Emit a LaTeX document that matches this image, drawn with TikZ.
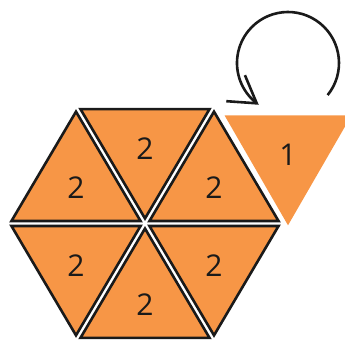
\documentclass[tikz,border=0pt]{standalone}
\usepackage{fontspec}
\setmainfont{Open Sans}
\usetikzlibrary{arrows.meta,bending,calc}
\definecolor{orange}{HTML}{F79646}
\definecolor{ink}{HTML}{1A1A1A}
\tikzset{
  piece/.style={fill=orange,draw=ink,line width=2.6pt,line join=miter},
  loose/.style={fill=orange},
  count/.style={font=\fontsize{30}{32}\selectfont,text=ink,inner sep=0pt,yshift=-3pt},
  turn/.style={-{Straight Barb[length=26pt,width=32pt,flex]},draw=ink,line width=2.6pt}
}
\begin{document}
\begin{tikzpicture}[x=1pt,y=1pt]
\path[use as bounding box] (0,0) rectangle (345,340);
% hexagon of six pieces
\coordinate (o) at (145,116.5);
\foreach \i/\a in {0/0,1/60,2/120,3/180,4/240,5/300}
  \coordinate (v\i) at ($(o)+({138*cos(\a)},{135*sin(\a)})$);
\foreach \i/\j in {0/1,1/2,2/3,3/4,4/5,5/0}{
  \coordinate (g\i) at ($(o)!2/3!($(v\i)!0.5!(v\j)$)$);
  \draw[piece] ($(g\i)!0.935!(o)$) -- ($(g\i)!0.935!(v\i)$) -- ($(g\i)!0.935!(v\j)$) -- cycle;
  \node[count] (n\i) at (g\i) {2};
}
% the single piece
\coordinate (t) at (288,188);
\fill[loose] ($(t)+(150:73.3)$) -- ($(t)+(30:73.3)$) -- ($(t)+(-90:73.3)$) -- cycle;
\node[count] (one) at (t) {1};
% turning arrow
\coordinate (c) at (288,277);
\draw[turn] ($(c)+(-39:51)$) arc[start angle=-39,end angle=235,radius=51];
\end{tikzpicture}
\end{document}
